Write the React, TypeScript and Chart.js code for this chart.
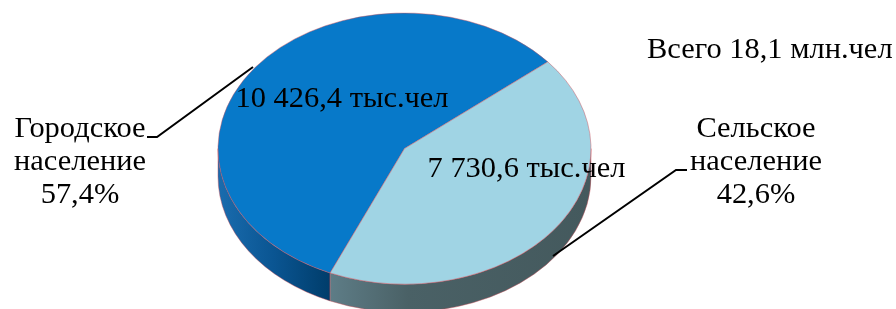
import React, { useEffect, useRef } from "react";
import { Chart, registerables } from "chart.js";

Chart.register(...registerables);

// ---------- data ----------
const categories = ["Городское", "Сельское"];
const categorySuffix = "население";
const values = [10426.4, 7730.6]; // тыс. человек
const valueUnit = "тыс.чел";
const totalLabel = "Всего 18,1 млн.чел";

// ---------- styles ----------
const W = 896;
const H = 309;
const FONT = "29px 'Liberation Serif', 'Times New Roman', serif";
const TEXT_STRETCH = 1.05;
const topColors = ["#0779C9", "#A0D4E4"];
const edgeColor = "rgba(205,80,90,0.55)";
const PIE_RADIUS = 135.6; // vertical semi-axis
const X_STRETCH = 1.3754; // horizontal / vertical
const DEPTH = 28;
const LINE_H = 33;

const fmtValue = (v: number) => {
  const [i, d] = v.toFixed(1).split(".");
  return i.replace(/\B(?=(\d{3})+(?!\d))/g, " ") + "," + d + " " + valueUnit;
};
const total = values.reduce((a, b) => a + b, 0);
const fmtPct = (v: number) => ((v / total) * 100).toFixed(1).replace(".", ",") + "%";

function drawText(ctx: CanvasRenderingContext2D, t: string, x: number, y: number, align: CanvasTextAlign) {
  ctx.save();
  ctx.translate(x, y);
  ctx.scale(TEXT_STRETCH, 1);
  ctx.textAlign = align;
  ctx.fillText(t, 0, 0);
  ctx.restore();
}

const pie3d = {
  id: "pie3d",
  beforeDatasetsDraw(chart: any) {
    const ctx = chart.ctx as CanvasRenderingContext2D;
    const arcs = chart.getDatasetMeta(0).data as any[];
    if (!arcs.length) return;
    const cx = arcs[0].x;
    const cy = arcs[0].y;
    const r = arcs[0].outerRadius;
    const rx = r * X_STRETCH;
    const gradFor = (i: number) => {
      if (i === 0) {
        const g = ctx.createLinearGradient(cx - rx, 0, cx - 75, 0);
        g.addColorStop(0, "#1a6cae");
        g.addColorStop(0.5, "#0a5592");
        g.addColorStop(1, "#003d6b");
        return g;
      }
      const g = ctx.createLinearGradient(cx - 75, 0, cx + rx, 0);
      g.addColorStop(0, "#5e7d87");
      g.addColorStop(0.3, "#4a6166");
      g.addColorStop(1, "#44595d");
      return g;
    };
    ctx.save();
    arcs.forEach((arc: any, i: number) => {
      const s = arc.startAngle;
      const e = arc.endAngle;
      for (let k = -1; k <= 2; k++) {
        const lo = Math.max(s, 2 * Math.PI * k);
        const hi = Math.min(e, 2 * Math.PI * k + Math.PI);
        if (hi > lo) {
          ctx.beginPath();
          ctx.ellipse(cx, cy, rx, r, 0, lo, hi, false);
          ctx.ellipse(cx, cy + DEPTH, rx, r, 0, hi, lo, true);
          ctx.closePath();
          ctx.fillStyle = gradFor(i);
          ctx.fill();
          ctx.lineWidth = 0.8;
          ctx.strokeStyle = edgeColor;
          ctx.stroke();
        }
      }
    });
    ctx.restore();
    ctx.save();
    ctx.translate(cx, cy);
    ctx.scale(X_STRETCH, 1);
    ctx.translate(-cx, -cy);
  },
  afterDatasetsDraw(chart: any) {
    const ctx = chart.ctx as CanvasRenderingContext2D;
    ctx.restore();
    const arcs = chart.getDatasetMeta(0).data as any[];
    const cx = arcs[0].x;
    const cy = arcs[0].y;
    ctx.save();
    ctx.font = FONT;
    ctx.fillStyle = "#000";
    ctx.textBaseline = "alphabetic";

    // value labels inside slices
    drawText(ctx, fmtValue(values[0]), cx - 62.5, cy - 41.6, "center");
    drawText(ctx, fmtValue(values[1]), cx + 122, cy + 28.4, "center");

    // category labels
    const catPos = [
      { x: 80, y: 137 },
      { x: 756, y: 137 },
    ];
    categories.forEach((c, i) => {
      const p = catPos[i];
      drawText(ctx, c, p.x, p.y, "center");
      drawText(ctx, categorySuffix, p.x, p.y + LINE_H, "center");
      drawText(ctx, fmtPct(values[i]), p.x, p.y + 2 * LINE_H, "center");
    });

    // total
    drawText(ctx, totalLabel, 647, 58, "left");

    // leader lines
    ctx.strokeStyle = "#000";
    ctx.lineWidth = 2;
    ctx.beginPath();
    ctx.moveTo(147, 137);
    ctx.lineTo(157, 137);
    ctx.lineTo(253, 67);
    ctx.stroke();
    ctx.beginPath();
    ctx.moveTo(687, 170);
    ctx.lineTo(676, 170);
    ctx.lineTo(553, 256);
    ctx.stroke();
    ctx.restore();
  },
};

export default function App() {
  const ref = useRef<HTMLCanvasElement>(null);
  useEffect(() => {
    if (!ref.current) return;
    const chart = new Chart(ref.current, {
      type: "pie",
      data: {
        labels: categories,
        datasets: [
          {
            data: values,
            backgroundColor: topColors,
            borderColor: edgeColor,
            borderWidth: 0.7,
            clip: false,
          } as any,
        ],
      },
      options: {
        responsive: false,
        animation: false,
        rotation: 203.5,
        radius: PIE_RADIUS,
        layout: { padding: { top: 13, bottom: 24.8, left: 254.5, right: 341.5 } },
        plugins: { legend: { display: false }, tooltip: { enabled: false } },
        events: [],
      } as any,
      plugins: [pie3d],
    });
    return () => chart.destroy();
  }, []);
  return (
    <div style={{ position: "absolute", left: 0, top: 0, width: W, height: H, background: "#fff" }}>
      <canvas ref={ref} width={W} height={H} style={{ display: "block" }} />
    </div>
  );
}
